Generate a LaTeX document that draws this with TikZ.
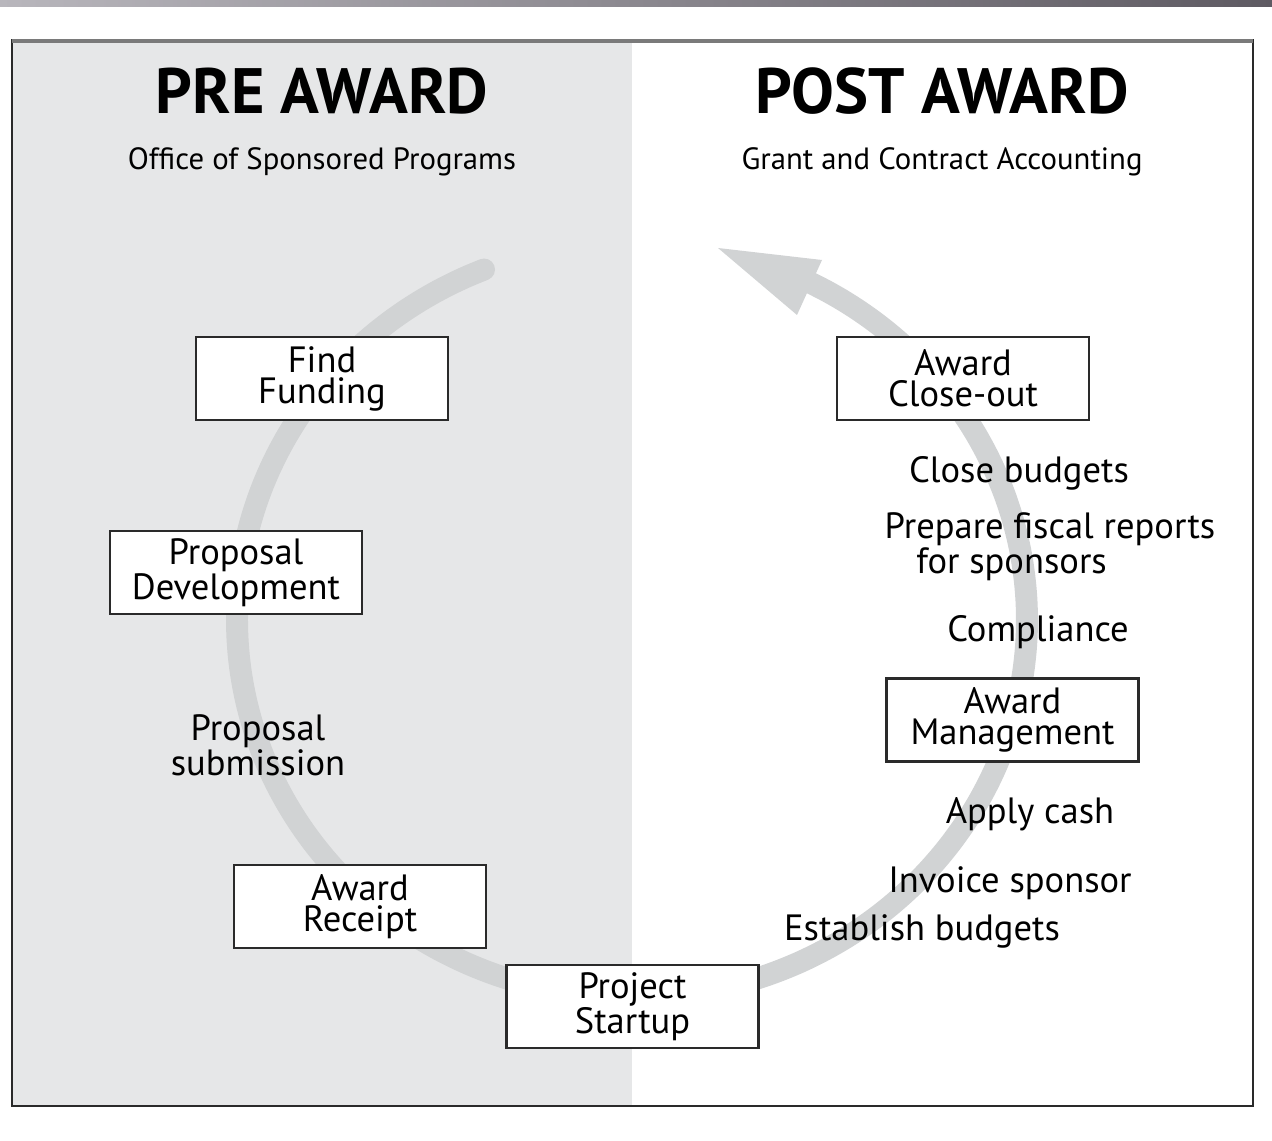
\documentclass[tikz,border=0pt]{standalone}
\usepackage{fontspec}
\setmainfont{PT Sans}
\definecolor{barL}{HTML}{B8B6BC}
\definecolor{barR}{HTML}{5E5A62}
\definecolor{panel}{HTML}{E6E7E8}
\definecolor{arcgray}{HTML}{D1D3D4}
\definecolor{frameline}{HTML}{2A2A2A}
\definecolor{topline}{HTML}{7A7A7A}
\newcommand\bxfont{\fontsize{20.8}{17.6}\selectfont}
\tikzset{
  stagebox/.style={draw=frameline, line width=1.5pt, fill=white, minimum width=5.04cm,
    minimum height=1.66cm, align=center, inner sep=0pt, font=\bxfont},
  steplabel/.style={align=center, inner sep=0pt, font=\bxfont},
  header/.style={anchor=base, inner sep=0pt, font=\bfseries\fontsize{36.5}{38}\selectfont},
  subheader/.style={anchor=base, inner sep=0pt, font=\fontsize{17.5}{19}\selectfont},
}
\begin{document}
\begin{tikzpicture}[x=0.02cm, y=-0.02cm]
\useasboundingbox (0,0) rectangle (1272,1141);
% top gradient bar
\shade[left color=barL, right color=barR] (0,0) rectangle (1272,7);
% panels
\fill[panel] (12,40) rectangle (632,1106);
\draw[frameline, line width=1.3pt] (12,40) rectangle (1253,1106);
\draw[topline, line width=2.6pt] (12,41) -- (1253,41);
% cycle arc (elliptical)
\draw[arcgray, line width=12.5pt, line cap=round]
  plot[domain=112:423.2, samples=120, smooth] ({632+395*cos(\x)}, {620-378*sin(\x)});
\fill[arcgray] (718,248) -- (822,260) -- (797,315) -- cycle;
% headers
\node[header] (pre) at (322,114) {PRE AWARD};
\node[header] (post) at (942,114) {POST AWARD};
\node[subheader] (osp) at (322,170) {Office of Sponsored Programs};
\node[subheader] (gca) at (942,170) {Grant and Contract Accounting};
% stage boxes
\node[stagebox] (find) at (322,378.5) {Find\\Funding};
\node[stagebox] (propdev) at (236,572.5) {Proposal\\Development};
\node[stagebox] (receipt) at (360,906.5) {Award\\Receipt};
\node[stagebox] (startup) at (632.5,1006.5) {Project\\Startup};
\node[stagebox] (closeout) at (963,378.5) {Award\\Close-out};
\node[stagebox] (mgmt) at (1012.5,720) {Award\\Management};
% labels
\node[steplabel] (sub) at (258,745) {Proposal\\submission};
\node[steplabel] (closeb) at (1019,473) {Close budgets};
\node[steplabel, align=left] (fiscal) at (1050,547) {Prepare fiscal reports\\\hspace*{18pt}for sponsors};
\node[steplabel] (compl) at (1038,632) {Compliance};
\node[steplabel] (cash) at (1030,814) {Apply cash};
\node[steplabel] (invoice) at (1010,883) {Invoice sponsor};
\node[steplabel] (estab) at (922,931) {Establish budgets};
\end{tikzpicture}
\end{document}
